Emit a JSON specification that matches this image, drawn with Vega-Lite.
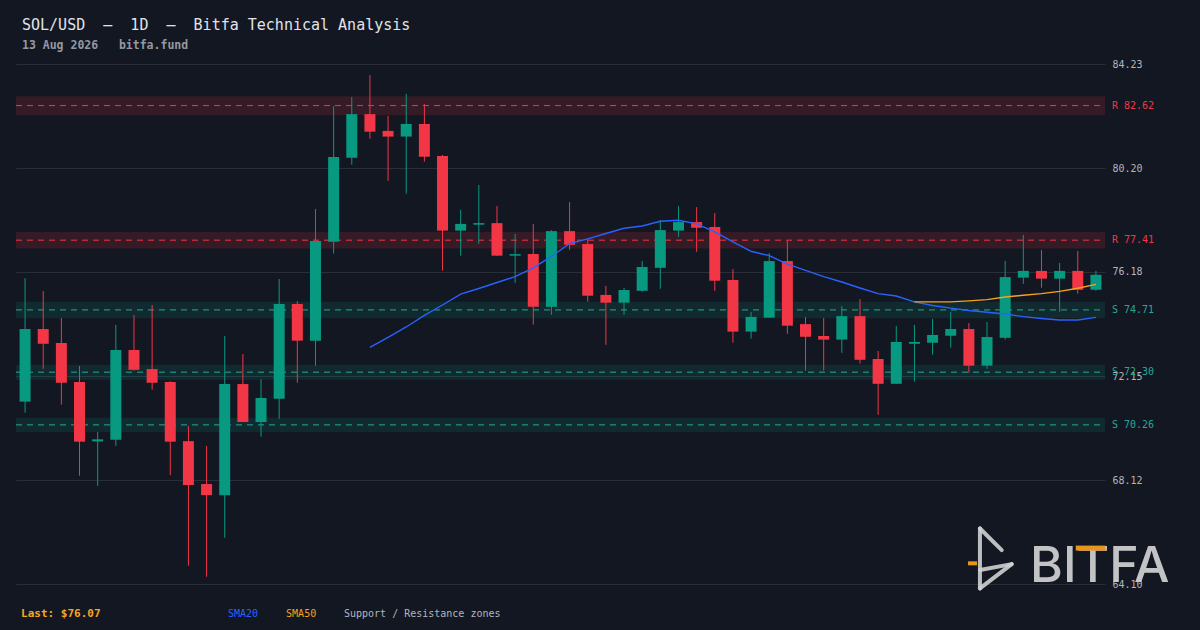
{
  "$schema": "https://vega.github.io/schema/vega-lite/v6.json",
  "width": 1089,
  "height": 520,
  "autosize": {"type": "none"},
  "padding": {"left": 16, "top": 64, "right": 95, "bottom": 46},
  "background": "#131722",
  "config": {
    "view": {"stroke": null},
    "font": "DejaVu Sans Mono"
  },
  "title": {
    "text": "SOL/USD\u00a0\u00a0–\u00a0\u00a01D\u00a0\u00a0–\u00a0\u00a0Bitfa Technical Analysis",
    "subtitle": "13 Aug 2026\u00a0\u00a0\u00a0bitfa.fund",
    "anchor": "start",
    "frame": "group",
    "dx": 6,
    "offset": 8,
    "font": "DejaVu Sans Mono",
    "fontSize": 15,
    "fontWeight": "normal",
    "color": "#e1e3ea",
    "subtitleFont": "DejaVu Sans Mono",
    "subtitleFontSize": 11.5,
    "subtitleFontWeight": "bold",
    "subtitleColor": "#9598a1",
    "subtitlePadding": 7
  },
  "datasets": {
    "candles": [
      {"i": 1, "o": 71.16, "h": 75.94, "l": 70.73, "c": 73.97},
      {"i": 2, "o": 73.97, "h": 75.44, "l": 72.43, "c": 73.40},
      {"i": 3, "o": 73.43, "h": 74.40, "l": 71.04, "c": 71.89},
      {"i": 4, "o": 71.92, "h": 72.54, "l": 68.29, "c": 69.61},
      {"i": 5, "o": 69.62, "h": 69.98, "l": 67.90, "c": 69.70},
      {"i": 6, "o": 69.68, "h": 74.13, "l": 69.45, "c": 73.16},
      {"i": 7, "o": 73.16, "h": 74.51, "l": 72.36, "c": 72.39},
      {"i": 8, "o": 72.42, "h": 74.90, "l": 71.62, "c": 71.89},
      {"i": 9, "o": 71.92, "h": 71.95, "l": 68.31, "c": 69.61},
      {"i": 10, "o": 69.63, "h": 70.22, "l": 64.81, "c": 67.93},
      {"i": 11, "o": 67.97, "h": 69.44, "l": 64.38, "c": 67.54},
      {"i": 12, "o": 67.54, "h": 73.70, "l": 65.89, "c": 71.84},
      {"i": 13, "o": 71.84, "h": 73.00, "l": 70.37, "c": 70.37},
      {"i": 14, "o": 70.37, "h": 72.03, "l": 69.80, "c": 71.30},
      {"i": 15, "o": 71.27, "h": 75.91, "l": 70.50, "c": 74.94},
      {"i": 16, "o": 74.94, "h": 75.05, "l": 71.89, "c": 73.52},
      {"i": 17, "o": 73.52, "h": 78.62, "l": 72.55, "c": 77.38},
      {"i": 18, "o": 77.35, "h": 82.60, "l": 76.89, "c": 80.63},
      {"i": 19, "o": 80.60, "h": 82.95, "l": 80.33, "c": 82.29},
      {"i": 20, "o": 82.29, "h": 83.80, "l": 81.34, "c": 81.61},
      {"i": 21, "o": 81.64, "h": 82.22, "l": 79.71, "c": 81.42},
      {"i": 22, "o": 81.42, "h": 83.07, "l": 79.21, "c": 81.91},
      {"i": 23, "o": 81.91, "h": 82.68, "l": 80.45, "c": 80.64},
      {"i": 24, "o": 80.67, "h": 80.71, "l": 76.23, "c": 77.78},
      {"i": 25, "o": 77.78, "h": 78.58, "l": 76.81, "c": 78.04},
      {"i": 26, "o": 78.01, "h": 79.55, "l": 77.27, "c": 78.07},
      {"i": 27, "o": 78.07, "h": 78.73, "l": 76.81, "c": 76.81},
      {"i": 28, "o": 76.81, "h": 77.65, "l": 75.76, "c": 76.87},
      {"i": 29, "o": 76.87, "h": 78.04, "l": 74.14, "c": 74.83},
      {"i": 30, "o": 74.83, "h": 77.80, "l": 74.52, "c": 77.76},
      {"i": 31, "o": 77.76, "h": 78.89, "l": 77.04, "c": 77.23},
      {"i": 32, "o": 77.26, "h": 77.45, "l": 75.03, "c": 75.26},
      {"i": 33, "o": 75.29, "h": 75.64, "l": 73.36, "c": 74.99},
      {"i": 34, "o": 74.99, "h": 75.56, "l": 74.52, "c": 75.48},
      {"i": 35, "o": 75.45, "h": 76.60, "l": 75.41, "c": 76.37},
      {"i": 36, "o": 76.34, "h": 78.19, "l": 75.53, "c": 77.80},
      {"i": 37, "o": 77.78, "h": 78.73, "l": 77.54, "c": 78.11},
      {"i": 38, "o": 78.11, "h": 78.69, "l": 76.96, "c": 77.89},
      {"i": 39, "o": 77.92, "h": 78.46, "l": 75.45, "c": 75.84},
      {"i": 40, "o": 75.87, "h": 76.29, "l": 73.44, "c": 73.87},
      {"i": 41, "o": 73.87, "h": 74.63, "l": 73.60, "c": 74.44},
      {"i": 42, "o": 74.41, "h": 76.91, "l": 74.41, "c": 76.60},
      {"i": 43, "o": 76.60, "h": 77.39, "l": 73.79, "c": 74.10},
      {"i": 44, "o": 74.16, "h": 74.44, "l": 72.36, "c": 73.67},
      {"i": 45, "o": 73.70, "h": 74.40, "l": 72.36, "c": 73.56},
      {"i": 46, "o": 73.56, "h": 74.86, "l": 73.05, "c": 74.47},
      {"i": 47, "o": 74.47, "h": 75.13, "l": 72.63, "c": 72.78},
      {"i": 48, "o": 72.81, "h": 73.12, "l": 70.65, "c": 71.85},
      {"i": 49, "o": 71.85, "h": 74.09, "l": 71.85, "c": 73.47},
      {"i": 50, "o": 73.40, "h": 74.13, "l": 71.93, "c": 73.47},
      {"i": 51, "o": 73.44, "h": 74.36, "l": 72.98, "c": 73.74},
      {"i": 52, "o": 73.71, "h": 74.63, "l": 73.25, "c": 73.97},
      {"i": 53, "o": 73.97, "h": 74.20, "l": 72.28, "c": 72.55},
      {"i": 54, "o": 72.55, "h": 74.24, "l": 72.43, "c": 73.66},
      {"i": 55, "o": 73.63, "h": 76.60, "l": 73.56, "c": 75.98},
      {"i": 56, "o": 75.96, "h": 77.61, "l": 75.72, "c": 76.22},
      {"i": 57, "o": 76.22, "h": 77.03, "l": 75.57, "c": 75.92},
      {"i": 58, "o": 75.92, "h": 76.53, "l": 74.64, "c": 76.22},
      {"i": 59, "o": 76.22, "h": 76.99, "l": 75.34, "c": 75.49},
      {"i": 60, "o": 75.49, "h": 76.22, "l": 75.45, "c": 76.07}
    ],
    "sma20": [
      {"i": 20, "v": 73.26}, {"i": 21, "v": 73.65}, {"i": 22, "v": 74.05},
      {"i": 23, "v": 74.50}, {"i": 24, "v": 74.90}, {"i": 25, "v": 75.32},
      {"i": 26, "v": 75.54}, {"i": 27, "v": 75.77}, {"i": 28, "v": 76.00},
      {"i": 29, "v": 76.34}, {"i": 30, "v": 76.78}, {"i": 31, "v": 77.28},
      {"i": 32, "v": 77.46}, {"i": 33, "v": 77.67}, {"i": 34, "v": 77.87},
      {"i": 35, "v": 77.96}, {"i": 36, "v": 78.14}, {"i": 37, "v": 78.18},
      {"i": 38, "v": 78.04}, {"i": 39, "v": 77.73}, {"i": 40, "v": 77.34},
      {"i": 41, "v": 76.98}, {"i": 42, "v": 76.81}, {"i": 43, "v": 76.48},
      {"i": 44, "v": 76.24}, {"i": 45, "v": 76.00}, {"i": 46, "v": 75.79},
      {"i": 47, "v": 75.56}, {"i": 48, "v": 75.34}, {"i": 49, "v": 75.25},
      {"i": 50, "v": 75.02}, {"i": 51, "v": 74.88}, {"i": 52, "v": 74.78},
      {"i": 53, "v": 74.69}, {"i": 54, "v": 74.62}, {"i": 55, "v": 74.55},
      {"i": 56, "v": 74.45}, {"i": 57, "v": 74.38}, {"i": 58, "v": 74.32},
      {"i": 59, "v": 74.32}, {"i": 60, "v": 74.42}
    ],
    "sma50": [
      {"i": 50, "v": 75.02}, {"i": 51, "v": 75.02}, {"i": 52, "v": 75.02},
      {"i": 53, "v": 75.06}, {"i": 54, "v": 75.11}, {"i": 55, "v": 75.21},
      {"i": 56, "v": 75.28}, {"i": 57, "v": 75.34}, {"i": 58, "v": 75.43},
      {"i": 59, "v": 75.55}, {"i": 60, "v": 75.70}
    ],
    "zones": [
      {"kind": "R", "level": 82.62, "lo": 82.26, "hi": 82.98, "label": "R 82.62"},
      {"kind": "R", "level": 77.41, "lo": 77.09, "hi": 77.73, "label": "R 77.41"},
      {"kind": "S", "level": 74.71, "lo": 74.39, "hi": 75.03, "label": "S 74.71"},
      {"kind": "S", "level": 72.30, "lo": 72.01, "hi": 72.59, "label": "S 72.30"},
      {"kind": "S", "level": 70.26, "lo": 69.98, "hi": 70.54, "label": "S 70.26"}
    ]
  },
  "encoding": {
    "x": {
      "type": "quantitative",
      "scale": {"domain": [0.5, 60.5], "nice": false, "zero": false, "padding": 0},
      "axis": null
    },
    "y": {
      "type": "quantitative",
      "scale": {"domain": [64.10, 84.23], "nice": false, "zero": false},
      "axis": {
        "orient": "right",
        "values": [64.10, 68.12, 72.15, 76.18, 80.20, 84.23],
        "format": ".2f",
        "title": null,
        "domain": false,
        "ticks": false,
        "grid": true,
        "gridColor": "#2a2e39",
        "gridWidth": 1,
        "labelColor": "#b2b5be",
        "labelFont": "DejaVu Sans Mono",
        "labelFontSize": 10,
        "labelPadding": 7,
        "labelOverlap": false,
        "labelFlush": false
      }
    }
  },
  "layer": [
    {
      "data": {"name": "zones"},
      "mark": {"type": "rect", "fillOpacity": 0.15},
      "encoding": {
        "x": {"datum": 0.5},
        "x2": {"datum": 60.5},
        "y": {"field": "lo"},
        "y2": {"field": "hi"},
        "fill": {
          "field": "kind",
          "type": "nominal",
          "scale": {"domain": ["R", "S"], "range": ["#f23645", "#089981"]},
          "legend": null
        }
      }
    },
    {
      "data": {"name": "zones"},
      "mark": {"type": "rule", "strokeDash": [6, 5], "strokeWidth": 1},
      "encoding": {
        "x": {"datum": 0.5},
        "x2": {"datum": 60.5},
        "y": {"field": "level"},
        "stroke": {
          "field": "kind",
          "type": "nominal",
          "scale": {"domain": ["R", "S"], "range": ["#f23645", "#22ab94"]},
          "legend": null
        }
      }
    },
    {
      "data": {"name": "candles"},
      "mark": {"type": "rule", "strokeWidth": 1},
      "encoding": {
        "x": {"field": "i"},
        "y": {"field": "l"},
        "y2": {"field": "h"},
        "color": {
          "condition": {"test": "datum.c >= datum.o", "value": "#089981"},
          "value": "#f23645"
        }
      }
    },
    {
      "data": {"name": "candles"},
      "mark": {"type": "bar", "width": 11},
      "encoding": {
        "x": {"field": "i"},
        "y": {"field": "o"},
        "y2": {"field": "c"},
        "color": {
          "condition": {"test": "datum.c >= datum.o", "value": "#089981"},
          "value": "#f23645"
        }
      }
    },
    {
      "data": {"name": "sma20"},
      "mark": {"type": "line", "color": "#2962ff", "strokeWidth": 1.4},
      "encoding": {
        "x": {"field": "i"},
        "y": {"field": "v"}
      }
    },
    {
      "data": {"name": "sma50"},
      "mark": {"type": "line", "color": "#f7a21b", "strokeWidth": 1.4},
      "encoding": {
        "x": {"field": "i"},
        "y": {"field": "v"}
      }
    },
    {
      "data": {"name": "zones"},
      "mark": {"type": "text", "align": "left", "baseline": "middle", "dx": 7, "fontSize": 10, "font": "DejaVu Sans Mono"},
      "encoding": {
        "x": {"datum": 60.5},
        "y": {"field": "level"},
        "text": {"field": "label"},
        "color": {
          "field": "kind",
          "type": "nominal",
          "scale": {"domain": ["R", "S"], "range": ["#f23645", "#22ab94"]},
          "legend": null
        }
      }
    },
    {
      "data": {"values": [{}]},
      "mark": {"type": "text", "text": "BITFA", "align": "left", "baseline": "alphabetic", "font": "Inter", "fontSize": 50, "fontWeight": 500, "color": "#d6d6d6", "opacity": 0.9},
      "encoding": {
        "x": {"datum": 56.37},
        "y": {"datum": 64.18}
      }
    },
    {
      "data": {"values": [{}]},
      "mark": {"type": "rule", "color": "#e8951c", "strokeWidth": 5},
      "encoding": {
        "x": {"datum": 58.89}, "y": {"datum": 65.49},
        "x2": {"datum": 60.52}, "y2": {"datum": 65.49}
      }
    },
    {
      "data": {"values": [{}]},
      "mark": {"type": "rule", "color": "#d0d0d0", "strokeWidth": 4, "strokeCap": "round", "opacity": 0.9},
      "encoding": {
        "x": {"datum": 53.61}, "y": {"datum": 66.25},
        "x2": {"datum": 53.61}, "y2": {"datum": 63.93}
      }
    },
    {
      "data": {"values": [{}]},
      "mark": {"type": "rule", "color": "#d0d0d0", "strokeWidth": 4, "strokeCap": "round", "opacity": 0.9},
      "encoding": {
        "x": {"datum": 53.61}, "y": {"datum": 66.25},
        "x2": {"datum": 54.81}, "y2": {"datum": 65.41}
      }
    },
    {
      "data": {"values": [{}]},
      "mark": {"type": "rule", "color": "#d0d0d0", "strokeWidth": 4, "strokeCap": "round", "opacity": 0.9},
      "encoding": {
        "x": {"datum": 53.61}, "y": {"datum": 64.64},
        "x2": {"datum": 55.36}, "y2": {"datum": 64.87}
      }
    },
    {
      "data": {"values": [{}]},
      "mark": {"type": "rule", "color": "#d0d0d0", "strokeWidth": 4, "strokeCap": "round", "opacity": 0.9},
      "encoding": {
        "x": {"datum": 55.36}, "y": {"datum": 64.87},
        "x2": {"datum": 53.61}, "y2": {"datum": 63.93}
      }
    },
    {
      "data": {"values": [{}]},
      "mark": {"type": "rule", "color": "#e8951c", "strokeWidth": 4},
      "encoding": {
        "x": {"datum": 52.95}, "y": {"datum": 64.90},
        "x2": {"datum": 53.45}, "y2": {"datum": 64.90}
      }
    },
    {
      "data": {"values": [{}]},
      "mark": {"type": "text", "text": "Last: $76.07", "align": "left", "baseline": "middle", "font": "DejaVu Sans Mono", "fontSize": 11, "fontWeight": "bold", "color": "#f5a623"},
      "encoding": {
        "x": {"datum": 0.78},
        "y": {"datum": 62.94}
      }
    },
    {
      "data": {"values": [{}]},
      "mark": {"type": "text", "text": "SMA20", "align": "left", "baseline": "middle", "font": "DejaVu Sans Mono", "fontSize": 10, "color": "#2962ff"},
      "encoding": {
        "x": {"datum": 12.18},
        "y": {"datum": 62.94}
      }
    },
    {
      "data": {"values": [{}]},
      "mark": {"type": "text", "text": "SMA50", "align": "left", "baseline": "middle", "font": "DejaVu Sans Mono", "fontSize": 10, "color": "#f7a21b"},
      "encoding": {
        "x": {"datum": 15.38},
        "y": {"datum": 62.94}
      }
    },
    {
      "data": {"values": [{}]},
      "mark": {"type": "text", "text": "Support / Resistance zones", "align": "left", "baseline": "middle", "font": "DejaVu Sans Mono", "fontSize": 10, "color": "#b2b5be"},
      "encoding": {
        "x": {"datum": 18.57},
        "y": {"datum": 62.94}
      }
    }
  ]
}
